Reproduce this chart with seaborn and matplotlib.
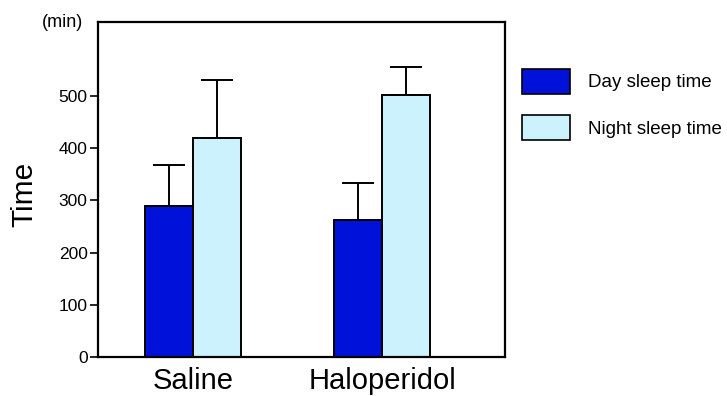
import matplotlib
matplotlib.use("Agg")
import matplotlib.pyplot as plt
import pandas as pd
import seaborn as sns
from matplotlib.patches import Patch

groups = ["Saline", "Haloperidol"]
series = ["Day sleep time", "Night sleep time"]
day_mean = [290, 262]
night_mean = [420, 502]
day_err = [78, 72]
night_err = [111, 53]
colors = ["#0012d9", "#ccf3fd"]

df = pd.DataFrame({
    "group": groups * 2,
    "series": [series[0]] * 2 + [series[1]] * 2,
    "time": day_mean + night_mean,
})
errs = day_err + night_err


def main() -> None:
    sns.set_theme(style="white")
    plt.rcParams["font.family"] = ["Liberation Sans", "DejaVu Sans"]
    plt.rcParams["text.color"] = "black"
    plt.rcParams["axes.labelcolor"] = "black"

    fig = plt.figure(figsize=(7.27, 3.96), dpi=100)
    ax = fig.add_axes([0.135, 0.0985, 0.56, 0.846])

    sns.barplot(data=df, x="group", y="time", hue="series", palette=colors,
                saturation=1, width=0.508, errorbar=None, edgecolor="black",
                linewidth=1.4, legend=False, ax=ax)

    for bar, err in zip(ax.patches, errs):
        xc = bar.get_x() + bar.get_width() / 2
        ax.errorbar(xc, bar.get_height(), yerr=[[0], [err]], fmt="none",
                    ecolor="black", elinewidth=1.4, capsize=11.5, capthick=1.4,
                    zorder=1)

    ax.set_xlim(-0.503, 1.65)
    ax.set_ylim(0, 642)
    ax.set_yticks([0, 100, 200, 300, 400, 500])
    ax.tick_params(axis="y", direction="out", length=5.5, width=1.2, labelsize=12.5,
                   left=True, pad=2, colors="black")
    ax.tick_params(axis="x", length=0, labelsize=21, pad=7, colors="black")
    for s in ax.spines.values():
        s.set_color("black")
        s.set_linewidth(1.6)

    ax.set_xlabel("")
    ax.set_ylabel("Time", fontsize=21.5, color="black")
    ax.yaxis.set_label_coords(-0.148, 0.485)
    fig.text(0.114, 0.942, "(min)", ha="right", va="center", fontsize=13,
             color="black")

    handles = [Patch(facecolor=c, edgecolor="black", linewidth=1.2) for c in colors]
    fig.legend(handles, series, loc="upper left",
               bbox_to_anchor=(522 / 727, 1 - 69 / 396), frameon=False,
               fontsize=13.5, handlelength=2.56, handleheight=1.65,
               labelspacing=1.15, handletextpad=0.96, borderpad=0,
               borderaxespad=0, labelcolor="black")

    plt.savefig("out.png", dpi=100)
    plt.close()


if __name__ == "__main__":
    main()
